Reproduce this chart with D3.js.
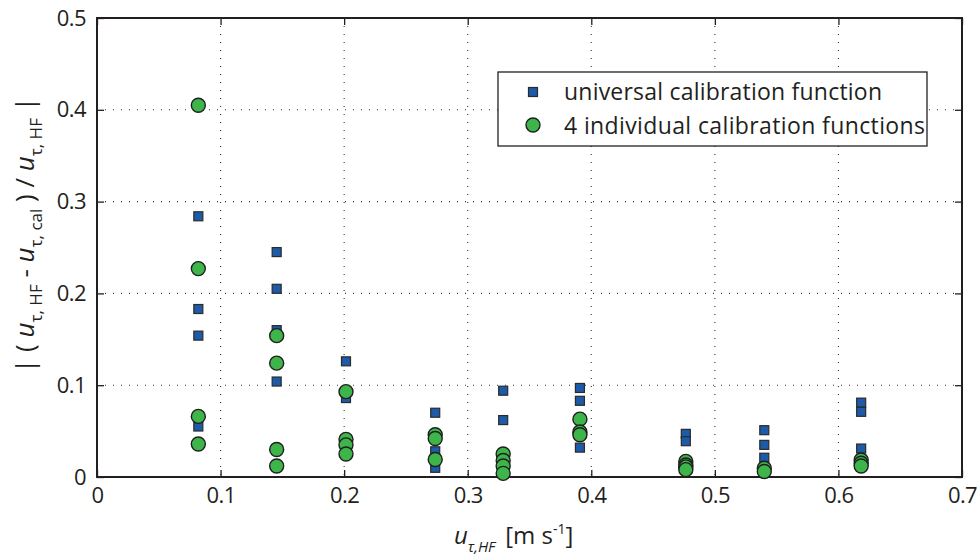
<!DOCTYPE html>
<html>
<head>
<meta charset="utf-8">
<script src="https://cdn.jsdelivr.net/npm/d3@7"></script>
<style>
  body { margin: 0; background: #fff; }
  svg text { font-family: "Open Sans", "Noto Sans", sans-serif; fill: #231f20; }
</style>
</head>
<body>
<svg id="chart" width="977" height="558"></svg>
<script>
// friction velocity of each measuring point (x)
var uTauHF = [0.082, 0.1454, 0.2015, 0.2737, 0.3287, 0.3908, 0.4765, 0.540, 0.6184];

// relative error, universal calibration function (one list per x)
var universalErr = [
    [0.284, 0.183, 0.154, 0.055],
    [0.245, 0.205, 0.160, 0.104],
    [0.126, 0.086],
    [0.070, 0.028, 0.010],
    [0.094, 0.062],
    [0.097, 0.083, 0.032],
    [0.047, 0.039],
    [0.051, 0.035, 0.021],
    [0.081, 0.071, 0.031]
];

// relative error, 4 individual calibration functions
var individualErr = [
    [0.405, 0.227, 0.066, 0.036],
    [0.154, 0.124, 0.030, 0.012],
    [0.093, 0.041, 0.035, 0.025],
    [0.046, 0.042, 0.019],
    [0.025, 0.018, 0.012, 0.004],
    [0.063, 0.049, 0.046],
    [0.017, 0.013, 0.011, 0.008],
    [0.0095, 0.006],
    [0.0185, 0.015, 0.012]
];

var xTicks = [0, 0.1, 0.2, 0.3, 0.4, 0.5, 0.6, 0.7];
var yTicks = [0, 0.1, 0.2, 0.3, 0.4, 0.5];
var legendLabels = ["universal calibration function", "4 individual calibration functions"];

var svg = d3.select('#chart');
var padding = {t: 18, r: 15, b: 81, l: 97};
var chartWidth = 977 - padding.l - padding.r;
var chartHeight = 558 - padding.t - padding.b;

var xScale = d3.scaleLinear().domain([0, 0.7]).range([0, chartWidth]);
var yScale = d3.scaleLinear().domain([0, 0.5]).range([chartHeight, 0]);

var chartG = svg.append('g')
    .attr('transform', 'translate(' + [padding.l, padding.t] + ')');

//dotted grid
var gridG = chartG.append('g');
gridG.selectAll('.vgrid').data(xTicks.slice(1, -1)).enter()
    .append('line')
    .attr('x1', d => xScale(d)).attr('x2', d => xScale(d))
    .attr('y1', 0).attr('y2', chartHeight)
    .attr('stroke', '#333').attr('stroke-width', 1.1)
    .attr('stroke-dasharray', '1,7');
gridG.selectAll('.hgrid').data(yTicks.slice(1, -1)).enter()
    .append('line')
    .attr('y1', d => yScale(d)).attr('y2', d => yScale(d))
    .attr('x1', 0).attr('x2', chartWidth)
    .attr('stroke', '#333').attr('stroke-width', 1.1)
    .attr('stroke-dasharray', '1,7');

//axes with inward ticks, on all four sides
function styleAxis(g) {
    g.select('.domain').remove();
    g.selectAll('.tick line').attr('stroke', '#231f20').attr('stroke-width', 1.3);
}
chartG.append('g')
    .attr('transform', 'translate(0,' + chartHeight + ')')
    .call(d3.axisBottom(xScale).tickValues(xTicks).tickSize(-7).tickPadding(10)
        .tickFormat(d => d == 0 ? '0' : d3.format('.1f')(d)))
    .call(styleAxis)
    .selectAll('text').attr('font-size', 22).attr('letter-spacing', -0.6).attr('dy', '0.71em');
chartG.append('g')
    .call(d3.axisTop(xScale).tickValues(xTicks).tickSize(-7).tickFormat(''))
    .call(styleAxis);
chartG.append('g')
    .call(d3.axisLeft(yScale).tickValues(yTicks).tickSize(-7).tickPadding(11)
        .tickFormat(d => d == 0 ? '0' : d3.format('.1f')(d)))
    .call(styleAxis)
    .selectAll('text').attr('font-size', 22).attr('letter-spacing', -0.6);
chartG.append('g')
    .attr('transform', 'translate(' + chartWidth + ',0)')
    .call(d3.axisRight(yScale).tickValues(yTicks).tickSize(-7).tickFormat(''))
    .call(styleAxis);

chartG.append('rect')
    .attr('width', chartWidth).attr('height', chartHeight)
    .attr('fill', 'none').attr('stroke', '#231f20').attr('stroke-width', 2);

//flatten the data into points
var squares = [];
var circles = [];
for (var i = 0; i < uTauHF.length; i++) {
    universalErr[i].forEach(function(v) { squares.push([uTauHF[i], v]); });
    individualErr[i].forEach(function(v) { circles.push([uTauHF[i], v]); });
}

var sq = 9;
chartG.selectAll('.sq').data(squares).enter()
    .append('rect')
    .attr('x', d => xScale(d[0]) - sq / 2)
    .attr('y', d => yScale(d[1]) - sq / 2)
    .attr('width', sq).attr('height', sq)
    .attr('fill', '#1d5aa7').attr('stroke', '#2b2b2b').attr('stroke-width', 1.2);

chartG.selectAll('.circ').data(circles).enter()
    .append('circle')
    .attr('cx', d => xScale(d[0]))
    .attr('cy', d => yScale(d[1]))
    .attr('r', 7)
    .attr('fill', '#3db54a').attr('stroke', '#1f1f1f').attr('stroke-width', 1.4);

//legend
var legG = svg.append('g').attr('transform', 'translate(498,72)');
legG.append('rect')
    .attr('width', 429).attr('height', 74)
    .attr('fill', '#fff').attr('stroke', '#231f20').attr('stroke-width', 1.3);
legG.append('rect')
    .attr('x', 35 - sq / 2).attr('y', 20 - sq / 2)
    .attr('width', sq).attr('height', sq)
    .attr('fill', '#1d5aa7').attr('stroke', '#2b2b2b').attr('stroke-width', 1.2);
legG.append('circle')
    .attr('cx', 35).attr('cy', 53).attr('r', 7)
    .attr('fill', '#3db54a').attr('stroke', '#1f1f1f').attr('stroke-width', 1.4);
legG.selectAll('.legtext').data(legendLabels).enter()
    .append('text')
    .attr('x', 66)
    .attr('y', (d, i) => 28 + i * 34)
    .attr('font-size', 23)
    .attr('textLength', (d, i) => i == 0 ? 318 : 361)
    .text(d => d);

//x label
var xl = svg.append('text')
    .attr('x', 454).attr('y', 544).attr('font-size', 24);
xl.append('tspan').attr('font-style', 'italic').text('u');
xl.append('tspan').attr('font-style', 'italic').attr('font-size', 15)
    .attr('dy', 8).text('τ,HF');
xl.append('tspan').attr('dy', -8).attr('dx', 10).text('[m s');
xl.append('tspan').attr('font-size', 14).attr('dy', -10).text('-1');
xl.append('tspan').attr('dy', 10).text(']');

//y label
var yl = svg.append('text')
    .attr('transform', 'translate(34,235) rotate(-90)')
    .attr('text-anchor', 'middle')
    .attr('font-size', 26);
yl.append('tspan').text('| ( ');
yl.append('tspan').attr('font-style', 'italic').text('u');
yl.append('tspan').attr('font-size', 17).attr('dy', 8).text('τ, HF');
yl.append('tspan').attr('dy', -8).text('  -  ');
yl.append('tspan').attr('font-style', 'italic').text('u');
yl.append('tspan').attr('font-size', 17).attr('dy', 8).text('τ, cal');
yl.append('tspan').attr('dy', -8).text('  )  /  ');
yl.append('tspan').attr('font-style', 'italic').text('u');
yl.append('tspan').attr('font-size', 17).attr('dy', 8).text('τ, HF');
yl.append('tspan').attr('dy', -8).text('  |');
</script>
</body>
</html>
